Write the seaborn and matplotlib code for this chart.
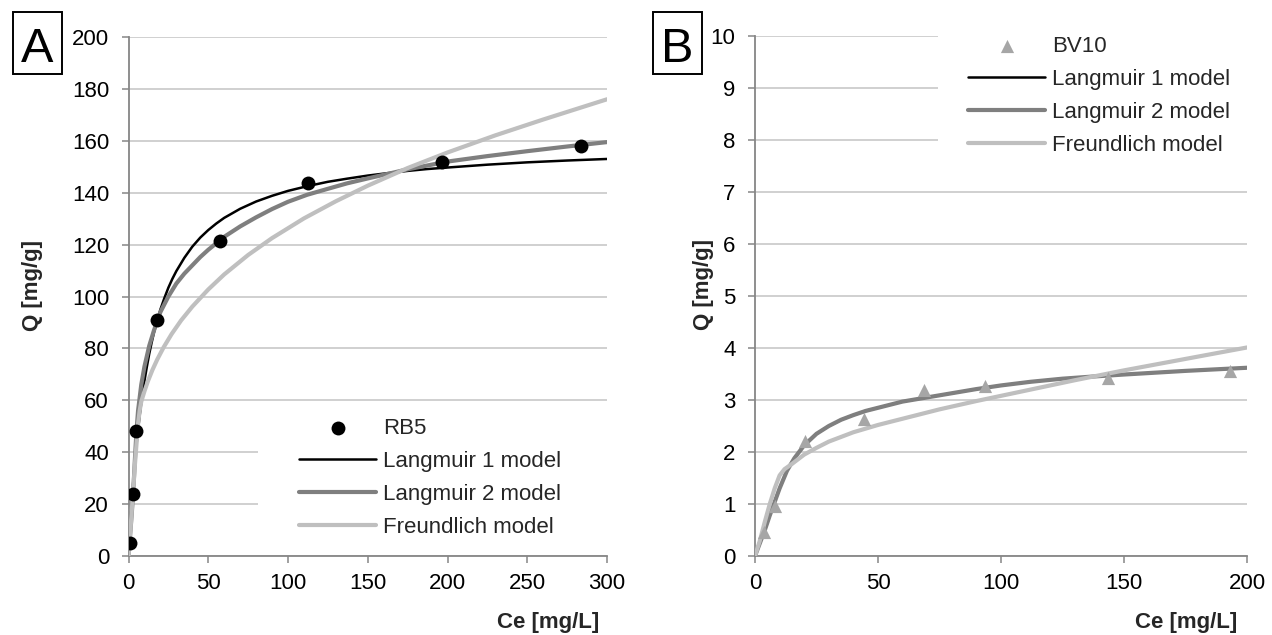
import matplotlib
matplotlib.use("Agg")
import matplotlib.pyplot as plt
from matplotlib.patches import Rectangle
import seaborn as sns

# ---------------- data ----------------
# Panel A: RB5
rb5_ce = [0.9, 3.0, 4.7, 18.1, 57.5, 112.5, 196.5, 283.8]
rb5_q = [4.9, 23.8, 48.2, 90.9, 121.2, 143.7, 151.9, 158.1]

a_lang1_ce = [0, 1, 2, 3, 4, 5, 6, 7, 8, 9, 10, 11.5, 13, 14.5, 16, 18, 20, 22.5, 25, 27.5, 30, 35, 40, 45,
              50, 55, 60, 70, 80, 90, 100, 112, 125, 137, 150, 162, 175, 187, 200, 225, 250, 275, 300]
a_lang1_q = [0, 10.9, 20.4, 28.8, 36.2, 42.8, 48.7, 54.1, 59.0, 63.4, 67.5, 72.9, 77.9, 82.2, 86.2, 90.6,
             95.0, 99.4, 103.4, 106.8, 109.8, 114.9, 119.2, 122.7, 125.6, 128.1, 130.3, 133.8, 136.6,
             138.8, 140.7, 142.5, 144.2, 145.4, 146.6, 147.5, 148.4, 149.1, 149.7, 150.8, 151.7, 152.4,
             153.0]

a_lang2_ce = [0, 1, 2, 3, 4, 5, 6, 8, 10, 13, 16, 20, 25, 30, 35, 40, 45, 50, 60, 70, 80, 90, 100, 112, 125,
              137, 150, 175, 200, 225, 250, 275, 300]
a_lang2_q = [0, 8, 16, 25, 37, 48, 56, 66, 73, 81, 87, 94, 100, 105, 108.8, 112, 115.2, 118, 123, 127,
             130.5, 133.7, 136.5, 139.2, 141.5, 143.6, 145.5, 149, 152, 154.1, 156, 157.8, 159.5]

a_freund_ce = [0, 1, 2, 3, 4, 5, 6, 7, 8, 10, 12, 15, 18, 22, 27, 33, 40, 50, 60, 75, 90, 110, 130, 150,
               175, 200, 230, 260, 300]
a_freund_q = [0, 8, 17, 26, 35, 43, 51, 56, 59.5, 63.5, 67.1, 71.7, 75.7, 80.4, 85.5, 90.8, 96.1, 102.7,
              108.5, 116.0, 122.5, 130.1, 136.7, 142.7, 149.5, 155.5, 162.1, 168.2, 176.0]

# Panel B: BV10
bv10_ce = [3.8, 8.0, 20.3, 44.4, 68.5, 93.5, 143.5, 193.0]
bv10_q = [0.46, 0.96, 2.21, 2.64, 3.20, 3.27, 3.42, 3.56]

b_lang_ce = [0, 2, 4, 6, 8, 10, 13, 16, 20, 25, 30, 35, 40, 45, 50, 60, 70, 80, 90, 100, 112, 125, 137, 150,
             175, 200]
b_lang1_q = [0, 0.25, 0.5, 0.78, 1.04, 1.3, 1.64, 1.88, 2.13, 2.35, 2.5, 2.62, 2.71, 2.79, 2.85, 2.97,
             3.05, 3.13, 3.21, 3.28, 3.35, 3.41, 3.45, 3.49, 3.56, 3.62]
b_lang2_q = [0, 0.25, 0.5, 0.78, 1.04, 1.3, 1.64, 1.88, 2.13, 2.35, 2.5, 2.62, 2.71, 2.79, 2.85, 2.97,
             3.05, 3.13, 3.21, 3.28, 3.35, 3.41, 3.45, 3.49, 3.56, 3.62]

b_freund_ce = [0, 2, 4, 6, 8, 10, 12, 15, 20, 25, 30, 40, 50, 60, 75, 90, 100, 115, 130, 150, 175, 200]
b_freund_q = [0, 0.3, 0.66, 1.0, 1.3, 1.55, 1.67, 1.77, 1.95, 2.08, 2.2, 2.38, 2.52, 2.64, 2.82, 2.98,
              3.08, 3.23, 3.38, 3.57, 3.79, 4.01]

labels_a = ["RB5", "Langmuir 1 model", "Langmuir 2 model", "Freundlich model"]
labels_b = ["BV10", "Langmuir 1 model", "Langmuir 2 model", "Freundlich model"]
x_label = "Ce [mg/L]"
y_label = "Q [mg/g]"

# ---------------- style ----------------
sns.set_style("white")
plt.rcParams["font.family"] = ["Liberation Sans", "DejaVu Sans"]

SPINE = "#868686"
GRID = "#c4c4c4"
C_L1 = "#000000"
C_L2 = "#7f7f7f"
C_FR = "#bfbfbf"
C_TRI = "#a6a6a6"
FS = 16

W, H = 1272, 635
fig = plt.figure(figsize=(W / 100, H / 100), dpi=100)


def fig_axes(left, right, top, bottom):
    return fig.add_axes([left / W, 1 - bottom / H, (right - left) / W, (bottom - top) / H])


axA = fig_axes(128.5, 607, 37, 556)
axB = fig_axes(755, 1247, 36, 556)


def style_axis(ax, xmax, xstep, ymax, ystep):
    ax.set_xlim(0, xmax)
    ax.set_ylim(0, ymax)
    ax.set_xticks(list(range(0, xmax + 1, xstep)))
    yt = [i * ystep for i in range(int(round(ymax / ystep)) + 1)]
    ax.set_yticks(yt)
    ax.set_axisbelow(True)
    ax.yaxis.grid(True, color=GRID, linewidth=1.1)
    ax.xaxis.grid(False)
    for s in ["top", "right"]:
        ax.spines[s].set_visible(False)
    for s in ["left", "bottom"]:
        ax.spines[s].set_color(SPINE)
        ax.spines[s].set_linewidth(1.3)
    ax.tick_params(axis="both", labelsize=FS, labelcolor="black", color=SPINE, length=5,
                   width=1.1, direction="out", left=True, bottom=True)
    ax.tick_params(axis="y", pad=9)
    ax.tick_params(axis="x", pad=7.5)
    ax.set_xlabel(x_label, fontsize=FS, fontweight="bold", ha="right", va="center")
    ax.set_ylabel(y_label, fontsize=FS, fontweight="bold", va="center")


# ---------------- panel A ----------------
sns.lineplot(x=a_lang1_ce, y=a_lang1_q, ax=axA, color=C_L1, linewidth=1.8, sort=False,
             estimator=None, label=labels_a[1], zorder=3)
sns.lineplot(x=a_lang2_ce, y=a_lang2_q, ax=axA, color=C_L2, linewidth=3.0, sort=False,
             estimator=None, label=labels_a[2], zorder=4)
sns.lineplot(x=a_freund_ce, y=a_freund_q, ax=axA, color=C_FR, linewidth=3.0, sort=False,
             estimator=None, label=labels_a[3], zorder=5)
sns.scatterplot(x=rb5_ce, y=rb5_q, ax=axA, color="black", s=100, marker="o", linewidth=0,
                label=labels_a[0], zorder=6)
style_axis(axA, 300, 50, 200, 20)
axA.xaxis.set_label_coords(0.983, -0.128)
axA.yaxis.set_label_coords(-0.1996, 0.522)

# ---------------- panel B ----------------
sns.lineplot(x=b_lang_ce, y=b_lang1_q, ax=axB, color=C_L1, linewidth=1.8, sort=False,
             estimator=None, label=labels_b[1], zorder=3)
sns.lineplot(x=b_lang_ce, y=b_lang2_q, ax=axB, color=C_L2, linewidth=3.0, sort=False,
             estimator=None, label=labels_b[2], zorder=4)
sns.lineplot(x=b_freund_ce, y=b_freund_q, ax=axB, color=C_FR, linewidth=3.0, sort=False,
             estimator=None, label=labels_b[3], zorder=5)
sns.scatterplot(x=bv10_ce, y=bv10_q, ax=axB, color=C_TRI, s=90, marker="^", linewidth=0,
                label=labels_b[0], zorder=6)
style_axis(axB, 200, 50, 10, 1)
axB.xaxis.set_label_coords(0.980, -0.128)
axB.yaxis.set_label_coords(-0.105, 0.522)


# ---------------- legends (Excel-like white background hiding gridlines) ----------------
def make_legend(ax, order_labels, anchor, bg):
    handles, labels = ax.get_legend_handles_labels()
    hmap = dict(zip(labels, handles))
    hs = [hmap[l] for l in order_labels]
    ax.add_patch(Rectangle((bg[0], bg[1]), bg[2], bg[3], transform=ax.transAxes,
                           facecolor="white", edgecolor="none", zorder=0.8, clip_on=False))
    leg = ax.legend(hs, order_labels, loc="upper left", bbox_to_anchor=anchor,
                    frameon=False, fontsize=FS, borderpad=0, borderaxespad=0,
                    handlelength=3.47, handletextpad=0.32, labelspacing=0.54,
                    scatterpoints=1)
    return leg


make_legend(axA, labels_a, (0.3563, 0.266), (0.2706, 0.01, 0.74, 0.275))
make_legend(axB, labels_b, (0.4329, 1.000), (0.372, 0.76, 0.64, 0.25))

# ---------------- panel letters ----------------
for (x0, x1, letter) in [(13, 62, "A"), (653, 702, "B")]:
    fig.patches.append(Rectangle((x0 / W, 1 - 74 / H), (x1 - x0) / W, 62 / H,
                                 transform=fig.transFigure, facecolor="white",
                                 edgecolor="black", linewidth=1.4))
    fig.text((x0 + x1) / 2 / W, 1 - 62 / H, letter, fontsize=35, ha="center",
             va="baseline", color="black")

fig.savefig("out.png", dpi=100, facecolor="white")
